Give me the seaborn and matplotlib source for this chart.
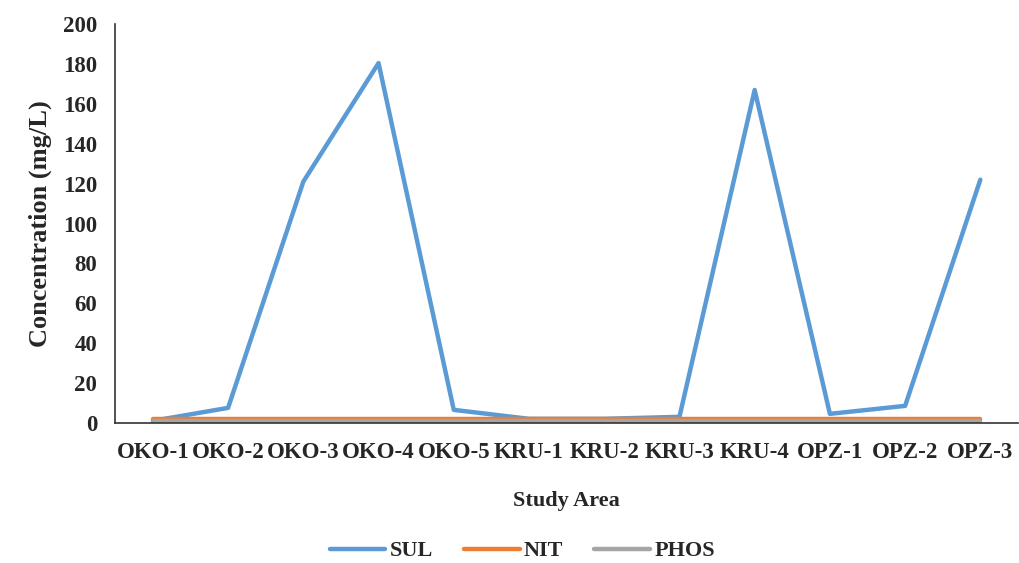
import numpy as np
import pandas as pd
import matplotlib
matplotlib.use('Agg')
import matplotlib.pyplot as plt
import seaborn as sns

## DATA
sites = ['OKO-1', 'OKO-2', 'OKO-3', 'OKO-4', 'OKO-5', 'KRU-1',
         'KRU-2', 'KRU-3', 'KRU-4', 'OPZ-1', 'OPZ-2', 'OPZ-3']
sul = [1.0, 7.5, 121.0, 180.5, 6.5, 2.0, 2.0, 3.0, 167.0, 4.5, 8.5, 122.0]
nit = [2.0, 2.0, 2.0, 2.0, 2.0, 2.0, 2.0, 2.0, 2.0, 2.0, 2.0, 2.0]
phos = [1.0, 1.0, 1.0, 1.0, 1.0, 1.0, 1.0, 1.0, 1.0, 1.0, 1.0, 1.0]

df = pd.DataFrame({'pos': list(range(len(sites))) * 3,
                   'value': sul + nit + phos,
                   'param': ['SUL'] * 12 + ['NIT'] * 12 + ['PHOS'] * 12})

sns.set_style('white')
plt.rcParams['font.family'] = ['Liberation Serif', 'DejaVu Serif']
plt.rcParams['font.weight'] = 'bold'

fig = plt.figure(figsize=(10.2, 5.63), dpi=100)
ax = fig.add_axes([0.113, 0.249, 0.885, 0.708])

palette = {'SUL': '#5B9BD5', 'NIT': '#ED7D31', 'PHOS': '#A5A5A5'}
sns.lineplot(data=df, x='pos', y='value', hue='param', palette=palette,
             linewidth=3.2, ax=ax, legend=True)

ax.set_xlim(-0.5, 11.5)
ax.set_ylim(0, 200)
ax.set_yticks(range(0, 201, 20))
ax.set_xticks(np.arange(-0.5, 12, 1))
ax.set_xticklabels([])
ax.set_xticks(range(len(sites)), minor=True)
ax.set_xticklabels(sites, minor=True, fontsize=16.5, fontweight='bold')
ax.tick_params(axis='x', which='major', direction='out', length=6, width=1.2, color='#333333')
ax.tick_params(axis='x', which='minor', length=0, pad=14)
ax.tick_params(axis='y', direction='out', length=5, width=1.2, color='#333333', labelsize=16.5, pad=8)
for lab in ax.get_yticklabels():
    lab.set_fontweight('bold')

sns.despine(ax=ax)
for s in ['left', 'bottom']:
    ax.spines[s].set_color('#333333')
    ax.spines[s].set_linewidth(1.2)

ax.set_xlabel('Study Area', fontsize=16, fontweight='bold', labelpad=20)
ax.set_ylabel('Concentration (mg/L)', fontsize=19, fontweight='bold', labelpad=8)

ax.legend(loc='center', bbox_to_anchor=(0.451, -0.322), ncol=3, frameon=False,
          prop={'size': 16, 'weight': 'bold'}, handlelength=2.5, columnspacing=1.4,
          handletextpad=0.2)

fig.savefig('out.png', dpi=100)
